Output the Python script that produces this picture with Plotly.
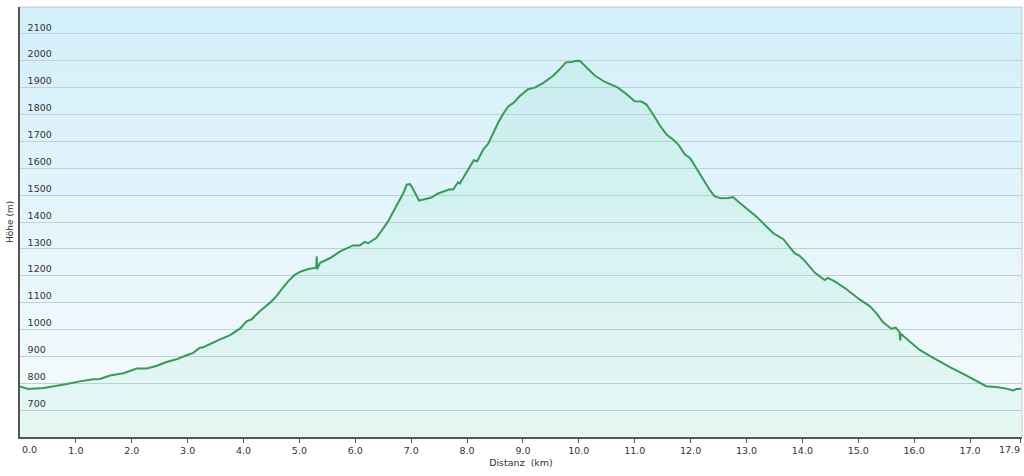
import plotly.graph_objects as go

distance_km = [
    0.00, 0.15, 0.42, 0.66, 0.84, 1.07, 1.31, 1.43, 1.61, 1.85, 2.00, 2.09, 2.27, 2.45,
    2.62, 2.80, 2.98, 3.10, 3.22, 3.28, 3.58, 3.76, 3.94, 4.06, 4.14, 4.29, 4.47, 4.59,
    4.68, 4.80, 4.92, 5.04, 5.16, 5.25, 5.30, 5.31, 5.315, 5.37, 5.55, 5.69, 5.72, 5.96,
    6.08, 6.17, 6.23, 6.38, 6.50, 6.59, 6.65, 6.74, 6.80, 6.86, 6.92, 6.98, 7.04, 7.10,
    7.14, 7.22, 7.36, 7.48, 7.60, 7.69, 7.75, 7.84, 7.87, 7.96, 8.05, 8.12, 8.18, 8.29,
    8.38, 8.47, 8.56, 8.65, 8.74, 8.83, 8.94, 9.09, 9.21, 9.36, 9.54, 9.66, 9.77, 9.87,
    9.96, 10.02, 10.14, 10.29, 10.47, 10.61, 10.70, 10.85, 11.00, 11.12, 11.21, 11.33,
    11.45, 11.57, 11.69, 11.78, 11.90, 11.99, 12.08, 12.22, 12.34, 12.43, 12.55, 12.67,
    12.76, 12.85, 13.00, 13.18, 13.33, 13.48, 13.66, 13.77, 13.86, 13.95, 14.07, 14.22,
    14.34, 14.40, 14.46, 14.61, 14.79, 14.85, 15.03, 15.21, 15.33, 15.44, 15.59, 15.67,
    15.74, 15.75, 15.76, 15.92, 16.10, 16.31, 16.46, 16.64, 16.87, 17.11, 17.29, 17.47,
    17.65, 17.77, 17.83, 17.92,
]
elevation_m = [
    788, 779, 782, 790, 797, 807, 815, 816, 829, 837, 850, 855, 855, 865,
    879, 889, 904, 913, 932, 934, 963, 979, 1004, 1031, 1037, 1068, 1099, 1124,
    1149, 1180, 1204, 1217, 1225, 1227, 1230, 1272, 1224, 1248, 1266, 1285, 1290, 1313,
    1313, 1326, 1321, 1341, 1375, 1403, 1427, 1464, 1483, 1508, 1539, 1541, 1520, 1495,
    1480, 1484, 1491, 1506, 1515, 1522, 1521, 1548, 1543, 1573, 1602, 1630, 1626, 1670,
    1692, 1732, 1771, 1804, 1831, 1843, 1868, 1894, 1900, 1917, 1944, 1969, 1994, 1995,
    2000, 1999, 1973, 1944, 1921, 1907, 1900, 1876, 1849, 1848, 1837, 1800,
    1759, 1725, 1706, 1688, 1651, 1638, 1607, 1557, 1520, 1495, 1488, 1489,
    1493, 1476, 1449, 1420, 1389, 1358, 1336, 1309, 1284, 1274, 1249, 1212,
    1191, 1184, 1192, 1175, 1150, 1140, 1111, 1086, 1059, 1028, 1003, 1007,
    990, 959, 984, 955, 924, 898, 880, 860, 836, 810, 789, 786,
    780, 773, 779, 780,
]

x_tick_vals = [float(i) for i in range(18)] + [17.9]
x_tick_text = [f"{v:.1f}" for v in x_tick_vals]
y_tick_vals = list(range(700, 2200, 100))

FONT = "DejaVu Sans"
TXT = "#333333"

fig = go.Figure()

fig.add_trace(go.Scatter(
    x=distance_km, y=elevation_m, mode="lines",
    line=dict(color="#389a55", width=2),
    fill="tozeroy", fillcolor="rgba(100,220,160,0.11)",
    hoverinfo="skip", showlegend=False,
))

# background gradient (light blue at the top to near-white at the bottom)
shapes = []
n = 60
top = (210, 239, 250)
bot = (246, 251, 253)
for i in range(n):
    t = i / (n - 1)
    c = tuple(round(top[k] + (bot[k] - top[k]) * t) for k in range(3))
    shapes.append(dict(
        type="rect", xref="paper", yref="paper", x0=0, x1=1,
        y0=1 - (i + 1) / n, y1=min(1, 1 - i / n + 0.002),
        fillcolor=f"rgb{c}", line=dict(width=0), layer="below",
    ))
# light frame on top and right
shapes.append(dict(type="line", xref="paper", yref="paper", x0=0, x1=1, y0=1, y1=1,
                   line=dict(color="#c8c8c8", width=1)))
shapes.append(dict(type="line", xref="paper", yref="paper", x0=1, x1=1, y0=0, y1=1,
                   line=dict(color="#c8c8c8", width=1)))

# edge tick labels kept inside the frame, as in the reference
edge_labels = [
    dict(x=x_tick_vals[0], text=x_tick_text[0], xanchor="left", xshift=0),
    dict(x=x_tick_vals[-1], text=x_tick_text[-1], xanchor="right", xshift=2),
]
annotations = [
    dict(xref="x", yref="paper", x=e["x"], y=0, yanchor="top", yshift=-5,
         xanchor=e["xanchor"], xshift=e["xshift"], text=e["text"], showarrow=False,
         font=dict(family=FONT, size=9.5, color=TXT))
    for e in edge_labels
]
annotations.append(dict(
    xref="paper", yref="paper", x=0, y=0.5, xanchor="center", yanchor="middle",
    xshift=-10, text="Höhe (m)", textangle=-90, showarrow=False,
    font=dict(family=FONT, size=9, color=TXT),
))

inner_text = [""] + x_tick_text[1:-1] + [""]

fig.update_layout(
    width=1024, height=476,
    margin=dict(l=20, r=2, t=7, b=39),
    paper_bgcolor="white", plot_bgcolor="rgba(0,0,0,0)",
    shapes=shapes, annotations=annotations,
    font=dict(family=FONT, size=10, color=TXT),
    xaxis=dict(
        range=[0, 17.93], tickvals=x_tick_vals, ticktext=inner_text,
        showgrid=False, zeroline=False, automargin=False,
        showline=True, linecolor="#555", linewidth=1.5,
        ticks="outside", ticklen=4, tickcolor="#555",
        tickfont=dict(size=9.5, color=TXT),
        title=dict(text="Distanz  (km)", font=dict(size=9.5, color=TXT), standoff=4),
    ),
    yaxis=dict(
        range=[600, 2200], tickvals=y_tick_vals,
        showgrid=True, gridcolor="#c2d0d6", gridwidth=1.3, zeroline=False,
        showline=True, linecolor="#555", linewidth=1.5, automargin=False,
        ticks="", ticklabelposition="inside top", ticklabelstandoff=6,
        tickfont=dict(size=9.5, color=TXT),
    ),
)

fig.write_html(
    "out.html",
    config={"displayModeBar": False},
    post_script="document.body.style.margin='0';document.body.style.overflow='hidden';",
)
